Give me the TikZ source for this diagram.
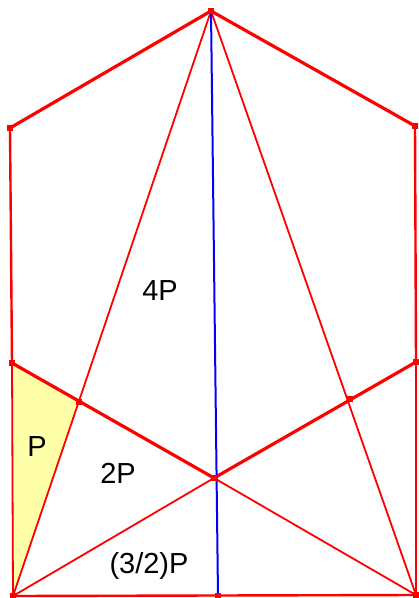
\documentclass[tikz,border=0pt]{standalone}
\usepackage{fontspec}
\setmainfont{Liberation Sans}
\definecolor{pale}{RGB}{255,255,170}
\begin{document}
\begin{tikzpicture}[x=0.5pt, y=-0.5pt,
  thin edge/.style={red, line width=0.9pt},
  rim/.style={red, line width=1.6pt},
  side/.style={red, line width=1.2pt},
  axis/.style={blue, line width=1pt},
  vtx/.style={rectangle, fill=red, inner sep=0pt, minimum size=2.6pt},
  area/.style={font=\fontsize{14.5}{17}\selectfont},
]
  \useasboundingbox (0,0) rectangle (418,598);
  % Points of the figure
  \coordinate (A) at (211,11);
  \coordinate (B) at (10,128);
  \coordinate (C) at (415,126);
  \coordinate (D) at (12,363);
  \coordinate (E) at (416,362);
  \coordinate (F) at (13,596);
  \coordinate (G) at (416,595);
  \coordinate (H) at (218,596);
  \coordinate (O) at (214,478);
  \coordinate (K) at (79,402);
  \coordinate (L) at (350,399);
  % Shaded piece
  \fill[pale] (D) -- (K) -- (F) -- cycle;
  % Thin lines
  \draw[thin edge] (A) -- (F);
  \draw[thin edge] (A) -- (G);
  \draw[thin edge] (F) -- (O) -- (G);
  \draw[thin edge] (D) -- (F);
  \draw[thin edge] (E) -- (G);
  % Outline
  \draw[rim] (B) -- (A) -- (C);
  \draw[side] (B) -- (D);
  \draw[side] (C) -- (E);
  \draw[rim] (D) -- (O) -- (E);
  \draw[side] (F) -- (G);
  % Axis
  \draw[axis] (A) -- (H);
  % Corner marks
  \foreach \p in {A,B,C,D,E,F,G,H,O,K,L}{
    \node[vtx] (m\p) at (\p) {};
  }
  % Area labels
  \node[area] (l4) at (160,291) {4P};
  \node[area] (l1) at (37,447) {P};
  \node[area] (l2) at (118,473) {2P};
  \node[area] (l3) at (149,566) {(3/2)P};
\end{tikzpicture}
\end{document}
